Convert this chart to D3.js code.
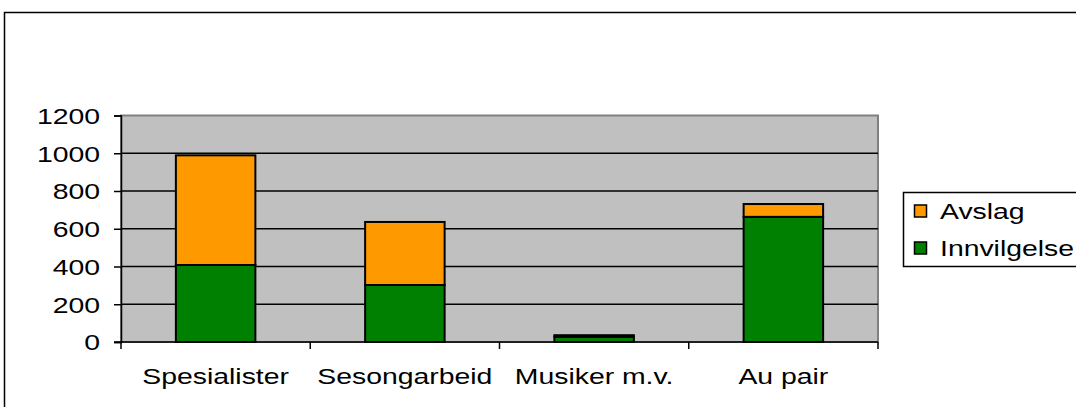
<!DOCTYPE html>
<html>
<head>
<meta charset="utf-8">
<script src="https://cdn.jsdelivr.net/npm/d3@7"></script>
<style>
  body { margin: 0; background: #fff; }
  svg { display: block; font-family: "Liberation Sans", Arial, sans-serif; }
</style>
</head>
<body>
<div id="chart"></div>
<script>
// chart data
var categories = ['Spesialister', 'Sesongarbeid', 'Musiker m.v.', 'Au pair'];
var innvilgelse = [408, 302, 28, 663];
var avslag = [581, 334, 8, 68];
var yTicks = [0, 200, 400, 600, 800, 1000, 1200];
var seriesNames = ['Innvilgelse', 'Avslag'];
var seriesColors = ['#008000', '#ff9900'];

var width = 1076, height = 407;
var plot = { left: 121, right: 878, top: 115.5, bottom: 342 };
var fontSize = 22, stretch = 1.29;   // original text is drawn wide

var svg = d3.select('#chart').append('svg')
    .attr('width', width)
    .attr('height', height);

// place a horizontally stretched text at x,y
function wideText(sel, xFn, yFn) {
    sel.attr('transform', function (d, i) {
        return 'translate(' + xFn(d, i) + ',' + yFn(d, i) + ') scale(' + stretch + ',1)';
    })
    .attr('x', 0).attr('y', 0)
    .attr('font-size', fontSize)
    .attr('fill', '#000');
}

// outer chart border
svg.append('rect')
    .attr('x', 4.5).attr('y', 12.5)
    .attr('width', width + 10).attr('height', height + 10)
    .attr('fill', '#fff')
    .attr('stroke', '#000')
    .attr('stroke-width', 1.5);

var x = d3.scaleBand()
    .domain(categories)
    .range([plot.left, plot.right])
    .paddingInner(0.58)
    .paddingOuter(0.29);

var y = d3.scaleLinear()
    .domain([0, 1200])
    .range([plot.bottom, plot.top]);

// plot area
svg.append('rect')
    .attr('x', plot.left).attr('y', plot.top)
    .attr('width', plot.right - plot.left)
    .attr('height', plot.bottom - plot.top)
    .attr('fill', '#c0c0c0')
    .attr('stroke', '#808080')
    .attr('stroke-width', 2);

// gridlines
svg.append('g').selectAll('line')
    .data(yTicks.slice(1, -1))
    .enter().append('line')
    .attr('x1', plot.left).attr('x2', plot.right)
    .attr('y1', function (d) { return y(d); })
    .attr('y2', function (d) { return y(d); })
    .attr('stroke', '#000')
    .attr('stroke-width', 1.5);

// stacked bars
var rows = categories.map(function (c, i) {
    return { cat: c, Innvilgelse: innvilgelse[i], Avslag: avslag[i] };
});
var stack = d3.stack().keys(seriesNames)(rows);

svg.append('g').selectAll('g')
    .data(stack)
    .enter().append('g')
    .attr('fill', function (d, i) { return seriesColors[i]; })
    .selectAll('rect')
    .data(function (d) { return d; })
    .enter().append('rect')
    .attr('x', function (d) { return x(d.data.cat); })
    .attr('width', x.bandwidth())
    .attr('y', function (d) { return y(d[1]); })
    .attr('height', function (d) { return y(d[0]) - y(d[1]); })
    .attr('stroke', '#000')
    .attr('stroke-width', 2);

// y axis
var yAxis = d3.axisLeft(y).tickValues(yTicks).tickSize(7).tickFormat(d3.format('d'));
var gy = svg.append('g')
    .attr('transform', 'translate(' + plot.left + ',0)')
    .call(yAxis);
gy.select('.domain').attr('stroke', '#000').attr('stroke-width', 1.5);
gy.selectAll('line').attr('stroke', '#000').attr('stroke-width', 1.5);
gy.selectAll('text')
    .style('font-family', '"Liberation Sans", Arial, sans-serif')
    .attr('text-anchor', 'end')
    .attr('dy', '0.36em')
    .call(wideText, function () { return -21; }, function () { return 0; });

// x axis
svg.append('line')
    .attr('x1', plot.left - 7).attr('x2', plot.right)
    .attr('y1', plot.bottom).attr('y2', plot.bottom)
    .attr('stroke', '#000').attr('stroke-width', 1.5);

var boundaries = d3.range(categories.length + 1).map(function (i) {
    return plot.left + i * (plot.right - plot.left) / categories.length;
});
svg.append('g').selectAll('line')
    .data(boundaries)
    .enter().append('line')
    .attr('x1', function (d) { return d; })
    .attr('x2', function (d) { return d; })
    .attr('y1', plot.bottom).attr('y2', plot.bottom + 7)
    .attr('stroke', '#000').attr('stroke-width', 1.5);

svg.append('g').selectAll('text')
    .data(categories)
    .enter().append('text')
    .attr('text-anchor', 'middle')
    .text(function (d) { return d; })
    .call(wideText,
        function (d) { return x(d) + x.bandwidth() / 2; },
        function () { return 384; });

// legend
var legend = svg.append('g');
legend.append('rect')
    .attr('x', 903.5).attr('y', 192.5)
    .attr('width', 200).attr('height', 74)
    .attr('fill', '#fff')
    .attr('stroke', '#000')
    .attr('stroke-width', 1.5);

var legendItems = [
    { name: 'Avslag', color: seriesColors[1], y: 211 },
    { name: 'Innvilgelse', color: seriesColors[0], y: 248 }
];
var li = legend.selectAll('g.item')
    .data(legendItems)
    .enter().append('g')
    .attr('class', 'item');
li.append('rect')
    .attr('x', 914.5)
    .attr('y', function (d) { return d.y - 6; })
    .attr('width', 12).attr('height', 12)
    .attr('fill', function (d) { return d.color; })
    .attr('stroke', '#000')
    .attr('stroke-width', 1.5);
li.append('text')
    .text(function (d) { return d.name; })
    .call(wideText, function () { return 940; }, function (d) { return d.y + 8; });
</script>
</body>
</html>
